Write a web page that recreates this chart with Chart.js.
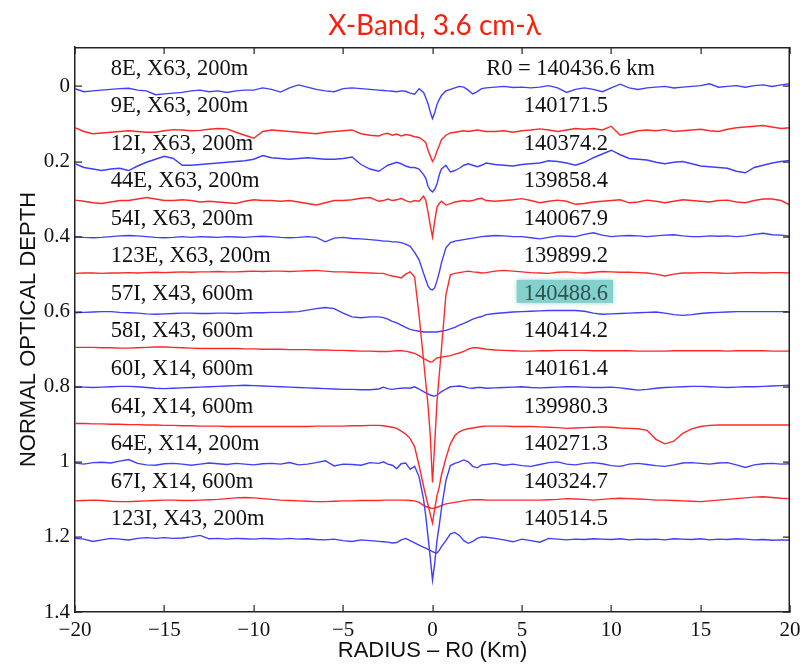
<!DOCTYPE html>
<html>
<head>
<meta charset="utf-8">
<title>X-Band ring profiles</title>
<script src="https://cdn.jsdelivr.net/npm/chart.js@4.4.1/dist/chart.umd.min.js"></script>
<style>
  html, body { margin: 0; padding: 0; background: #fff; }
  #wrap { width: 809px; height: 668px; position: relative; }
</style>
</head>
<body>
<div id="wrap"><canvas id="profiles"></canvas></div>
<script>
// radius relative to R0 (km), shared by every scan
const radiusKm = [
  -20, -19.5, -19, -18.5, -18, -17.5, -17, -16.5, -16, -15.5, -15, -14.5, -14, -13.5, -13, -12.5, -12, -11.5,
  -11, -10.5, -10, -9.5, -9, -8.5, -8, -7.5, -7, -6.5, -6, -5.5, -5, -4.5, -4, -3.5, -3,
  -2.75, -2.5, -2.25, -2, -1.75, -1.5, -1.25, -1, -0.75,
  -0.5, -0.375, -0.25, -0.125, 0, 0.125, 0.25, 0.375, 0.5,
  0.75, 1, 1.25, 1.5, 1.75, 2, 2.25, 2.5, 2.75,
  3, 3.5, 4, 4.5, 5, 5.5, 6, 6.5, 7, 7.5, 8, 8.5, 9, 9.5, 10, 10.5, 11, 11.5,
  12, 12.5, 13, 13.5, 14, 14.5, 15, 15.5, 16, 16.5, 17, 17.5, 18, 18.5, 19, 19.5, 20
];

// normal optical depth of each scan (before stacking)
const rev8E = [
  0.006, 0.014, 0.012, 0.01, 0.008, 0.006, 0.005, 0.01, 0.012, 0.022, 0.02, 0.018, 0.016, 0.012, 0.01, 0.014, 0.012, 0.016,
  0.012, 0.01, 0.01, 0.004, 0.008, 0.015, 0.004, -0.004, 0.002, 0.008, 0.012, 0.014, 0.006, 0.004, 0.006, 0.008, 0.01,
  0.011, 0.012, 0.013, 0.014, 0.012, 0.013, 0.018, 0.021, 0.006,
  0.016, 0.03, 0.046, 0.068, 0.086, 0.07, 0.048, 0.035, 0.024,
  0.012, 0.008, 0.004, 0.0, 0.002, 0.01, 0.02, 0.014, 0.006,
  0.004, 0.002, 0.0, 0.003, 0.002, 0.004, 0.002, -0.002, 0.004, 0.016, 0.008, 0.004, 0.008, 0.014, 0.004, -0.006, 0.004, 0.008,
  0.004, 0.002, 0.0, 0.004, 0.002, 0.0, -0.002, -0.007, 0.002, 0.0, -0.002, 0.002, -0.002, -0.004, 0.0, -0.004, -0.007
];
const rev9E = [
  0.01, 0.02, 0.026, 0.024, 0.022, 0.02, 0.018, 0.02, 0.022, 0.022, 0.018, 0.015, 0.016, 0.018, 0.017, 0.014, 0.012, 0.013,
  0.022, 0.03, 0.038, 0.02, 0.016, 0.018, 0.02, 0.022, 0.024, 0.026, 0.022, 0.02, 0.018, 0.016, 0.026, 0.03, 0.032,
  0.027, 0.025, 0.03, 0.027, 0.032, 0.028, 0.03, 0.034, 0.036,
  0.044, 0.05, 0.07, 0.085, 0.1, 0.09, 0.072, 0.058, 0.042,
  0.03, 0.024, 0.022, 0.02, 0.018, 0.02, 0.018, 0.016, 0.018,
  0.02, 0.02, 0.018, 0.022, 0.018, 0.016, 0.013, 0.016, 0.02, 0.016, 0.012, 0.014, 0.012, 0.016, 0.006, 0.03, 0.024, 0.018,
  0.016, 0.018, 0.015, 0.02, 0.018, 0.016, 0.014, 0.018, 0.02, 0.014, 0.01, 0.008, 0.006, 0.004, 0.008, 0.012, 0.01
];
const rev12I = [
  0.006, 0.016, 0.02, 0.024, 0.02, 0.018, 0.024, 0.012, 0.002, -0.006, -0.014, -0.008, 0.01, 0.01, 0.008, 0.006, 0.004, 0.002,
  0.0, -0.002, -0.006, -0.016, -0.01, -0.008, -0.006, -0.008, -0.01, -0.008, -0.006, -0.006, -0.008, -0.012, 0.008, 0.02, 0.026,
  0.018, 0.01, 0.006, 0.002, 0.006, 0.012, 0.016, 0.016, 0.02,
  0.035, 0.045, 0.066, 0.076, 0.081, 0.074, 0.06, 0.036, 0.02,
  0.01, 0.028, 0.024, 0.018, 0.01, 0.006, 0.01, 0.014, 0.01,
  0.004, 0.008, 0.01, 0.012, 0.008, 0.006, 0.004, -0.002, 0.0, 0.004, 0.01, 0.002, -0.01, -0.02, -0.03, -0.018, -0.008, -0.006,
  -0.004, 0.002, 0.006, 0.002, 0.0, 0.006, 0.012, 0.014, 0.016, 0.018, 0.026, 0.03, 0.016, 0.01, 0.004, 0.0, -0.003
];
const rev44E = [
  0.003, 0.006, 0.01, 0.012, 0.008, 0.004, 0.004, 0.0, -0.004, 0.0, 0.004, 0.004, 0.002, 0.004, 0.008, 0.006, 0.008, 0.01,
  0.012, 0.006, 0.002, 0.004, 0.004, 0.006, 0.004, 0.008, 0.012, 0.016, 0.01, 0.004, 0.004, 0.002, -0.002, -0.004, 0.006,
  0.004, 0.0, 0.004, 0.002, -0.002, 0.004, 0.008, 0.004, 0.006,
  -0.008, 0.004, 0.035, 0.07, 0.101, 0.058, 0.022, 0.012, 0.006,
  0.016, 0.012, 0.008, 0.006, 0.004, 0.006, 0.004, 0.0, -0.002,
  0.004, 0.006, 0.004, 0.002, -0.001, 0.004, 0.01, 0.006, 0.003, 0.006, 0.014, 0.012, 0.008, 0.006, 0.004, 0.002, 0.01, 0.008,
  0.003, 0.006, 0.01, 0.006, 0.002, 0.004, 0.006, 0.008, 0.004, 0.003, 0.008, 0.01, 0.004, 0.0, 0.0, 0.004, 0.016
];
const rev54I = [
  0.0, 0.002, 0.003, 0.002, 0.0, -0.002, -0.003, -0.002, 0.0, 0.002, 0.003, 0.002, 0.0, 0.002, 0.0, 0.001, 0.002, 0.0,
  0.001, 0.002, 0.0, -0.001, 0.0, 0.002, 0.003, 0.002, 0.0, 0.002, 0.014, 0.004, 0.002, 0.005, 0.006, 0.008, 0.01,
  0.012, 0.012, 0.014, 0.014, 0.016, 0.02, 0.026, 0.042, 0.062,
  0.098, 0.115, 0.132, 0.14, 0.142, 0.136, 0.118, 0.096, 0.07,
  0.03, 0.016, 0.012, 0.01, 0.008, 0.006, 0.004, 0.002, 0.0,
  -0.001, -0.003, -0.002, 0.0, 0.0, 0.003, 0.006, 0.002, -0.002, -0.001, 0.0, -0.006, -0.01, -0.004, 0.0, -0.002, -0.003, -0.002,
  0.0, -0.002, -0.004, -0.005, -0.002, 0.0, 0.0, -0.002, -0.001, -0.002, 0.0, -0.002, -0.006, -0.009, -0.005, -0.004, -0.001
];
const rev123E = [
  -0.002, -0.003, -0.003, -0.002, -0.003, -0.003, -0.004, -0.003, -0.004, -0.005, -0.004, -0.005, -0.006, -0.005, -0.006, -0.006, -0.007, -0.006,
  -0.006, -0.007, -0.008, -0.007, -0.008, -0.008, -0.007, -0.008, -0.009, -0.01, -0.008, -0.006, -0.006, -0.005, -0.004, -0.003, -0.002,
  -0.002, 0.002, 0.005, 0.007, 0.01, 0.0, -0.006, 0.008, 0.11,
  0.23, 0.29, 0.35, 0.43, 0.555, 0.45, 0.34, 0.27, 0.2,
  0.055, 0.002, -0.002, -0.004, -0.006, -0.008, -0.006, -0.005, -0.003,
  -0.004, -0.008, -0.01, -0.008, -0.006, -0.004, -0.003, -0.002, -0.005, -0.006, -0.004, -0.003, -0.005, -0.007, -0.006, -0.005, -0.005, -0.004,
  -0.003, 0.0, 0.005, 0.0, -0.003, -0.003, -0.004, -0.004, -0.003, -0.002, -0.003, -0.004, -0.004, -0.003, -0.004, -0.004, -0.003
];
const rev57I = [
  0.003, 0.002, 0.001, 0.0, 0.0, 0.002, 0.003, 0.004, 0.006, 0.007, 0.006, 0.005, 0.004, 0.004, 0.005, 0.005, 0.004, 0.004,
  0.005, 0.004, 0.003, 0.003, 0.002, 0.002, 0.001, 0.0, -0.004, -0.008, -0.011, -0.008, 0.004, 0.014, 0.016, 0.014, 0.014,
  0.016, 0.02, 0.026, 0.03, 0.036, 0.042, 0.047, 0.05, 0.052,
  0.054, 0.054, 0.054, 0.054, 0.054, 0.054, 0.054, 0.053, 0.052,
  0.05, 0.046, 0.042, 0.036, 0.031, 0.026, 0.02, 0.016, 0.013,
  0.008, 0.005, 0.003, 0.001, 0.0, -0.001, -0.002, -0.003, -0.003, -0.003, -0.003, -0.001, 0.004, 0.007, 0.006, 0.005, 0.004, 0.003,
  0.002, 0.001, 0.004, 0.008, 0.01, 0.008, 0.005, 0.003, 0.002, 0.001, 0.0, 0.0, 0.0, 0.0, 0.0, 0.0, 0.0
];
const rev58I = [
  -0.005, -0.005, -0.005, -0.004, -0.004, -0.003, -0.003, -0.004, -0.005, -0.006, -0.006, -0.005, -0.004, -0.003, -0.002, -0.002, -0.002, -0.002,
  -0.002, -0.001, -0.001, 0.0, 0.0, 0.0, 0.001, 0.001, 0.001, 0.002, 0.002, 0.003, 0.003, 0.004, 0.005, 0.005, 0.006,
  0.006, 0.006, 0.005, 0.004, 0.004, 0.005, 0.008, 0.011, 0.017,
  0.025, 0.028, 0.031, 0.034, 0.033, 0.028, 0.023, 0.022, 0.021,
  0.019, 0.017, 0.013, 0.01, 0.006, 0.0, -0.004, -0.004, -0.002,
  0.0, 0.002, 0.003, 0.004, 0.005, 0.005, 0.004, 0.004, 0.003, 0.003, 0.003, 0.003, 0.004, 0.004, 0.004, 0.004, 0.004, 0.005,
  0.005, 0.005, 0.005, 0.004, 0.004, 0.004, 0.004, 0.004, 0.004, 0.005, 0.004, 0.004, 0.004, 0.004, 0.005, 0.005, 0.005
];
const rev60I = [
  0.0, 0.001, 0.002, 0.001, 0.0, -0.001, -0.001, 0.0, 0.002, 0.004, 0.005, 0.004, 0.003, 0.002, 0.001, 0.0, -0.001, -0.002,
  -0.003, -0.004, -0.003, -0.002, -0.001, 0.0, 0.001, 0.002, 0.003, 0.004, 0.005, 0.006, 0.007, 0.007, 0.008, 0.008, 0.006,
  0.001, 0.005, 0.007, 0.005, 0.004, 0.003, 0.004, 0.0, 0.006,
  0.013, 0.016, 0.019, 0.022, 0.024, 0.025, 0.022, 0.018, 0.013,
  0.006, 0.0, -0.001, -0.002, 0.0, 0.003, 0.004, 0.002, 0.002,
  0.004, 0.003, 0.002, 0.001, 0.0, 0.002, 0.003, 0.002, 0.001, 0.0, 0.0, 0.001, 0.002, 0.002, 0.001, 0.003, 0.006, 0.009,
  0.007, 0.004, 0.002, 0.001, 0.0, -0.001, -0.001, 0.0, 0.001, 0.002, 0.001, 0.0, 0.0, -0.001, -0.002, -0.003, -0.004
];
const rev64I = [
  -0.002, -0.002, -0.001, -0.001, 0.0, 0.0, 0.001, 0.001, 0.002, 0.002, 0.003, 0.003, 0.004, 0.004, 0.005, 0.005, 0.005, 0.006,
  0.006, 0.006, 0.006, 0.006, 0.006, 0.006, 0.006, 0.006, 0.006, 0.005, 0.005, 0.005, 0.005, 0.004, 0.004, 0.003, 0.003,
  0.004, 0.006, 0.008, 0.011, 0.018, 0.026, 0.038, 0.06, 0.11,
  0.165, 0.19, 0.215, 0.24, 0.263, 0.225, 0.19, 0.168, 0.135,
  0.09, 0.052, 0.03, 0.02, 0.015, 0.012, 0.01, 0.008, 0.006,
  0.005, 0.005, 0.005, 0.006, 0.006, 0.006, 0.007, 0.008, 0.009, 0.011, 0.01, 0.009, 0.008, 0.007, 0.008, 0.01, 0.011, 0.012,
  0.016, 0.04, 0.052, 0.045, 0.024, 0.012, 0.006, 0.003, 0.002, 0.002, 0.002, 0.002, 0.002, 0.002, 0.002, 0.002, 0.002
];
const rev64E = [
  0.003, 0.006, 0.002, 0.001, 0.003, -0.002, -0.006, 0.004, 0.008, 0.009, 0.005, 0.004, 0.006, 0.009, 0.006, 0.003, 0.005, 0.007,
  0.004, 0.006, 0.008, 0.005, 0.004, 0.006, 0.002, 0.008, 0.006, 0.002, -0.003, 0.011, 0.006, 0.007, 0.009, 0.002, 0.004,
  0.0, 0.006, 0.009, 0.018, 0.005, 0.003, 0.02, 0.012, 0.04,
  0.1, 0.145, 0.2, 0.255, 0.315, 0.27, 0.21, 0.17, 0.125,
  0.05, 0.01, 0.004, 0.0, -0.005, 0.0, 0.012, 0.016, 0.008,
  0.007, 0.004, 0.009, 0.006, 0.01, 0.012, 0.007, 0.002, 0.0, 0.006, 0.008, 0.004, 0.002, 0.005, 0.01, 0.012, 0.006, 0.004,
  0.007, 0.01, 0.012, 0.008, 0.003, 0.002, 0.004, 0.006, 0.003, 0.002, 0.008, 0.015, 0.008, 0.005, 0.004, 0.006, 0.005
];
const rev67I = [
  0.004, 0.003, 0.002, 0.003, 0.005, 0.006, 0.006, 0.005, 0.004, 0.003, 0.002, 0.002, 0.003, 0.003, 0.002, 0.001, 0.0, -0.002,
  -0.004, -0.005, -0.004, -0.002, 0.0, 0.002, 0.003, 0.004, 0.005, 0.006, 0.006, 0.005, 0.004, 0.004, 0.003, 0.003, 0.003,
  0.002, 0.002, 0.002, 0.002, 0.002, 0.002, 0.003, 0.004, 0.008,
  0.016, 0.019, 0.021, 0.023, 0.024, 0.023, 0.021, 0.019, 0.016,
  0.012, 0.01, 0.008, 0.006, 0.004, 0.002, 0.001, 0.001, 0.001,
  0.002, 0.002, 0.002, 0.002, 0.002, 0.002, 0.002, 0.001, 0.0, -0.002, -0.001, 0.0, 0.002, 0.0, -0.002, -0.003, -0.002, -0.001,
  0.0, 0.002, 0.002, 0.003, 0.004, 0.005, 0.006, 0.004, 0.002, 0.0, -0.002, -0.004, -0.006, -0.007, -0.005, -0.003, -0.002
];
const rev123I = [
  0.004, 0.006, 0.012, 0.008, 0.004, 0.006, 0.008, 0.004, 0.002, 0.004, 0.002, 0.004, 0.003, 0.0, -0.004, 0.005, 0.004, 0.006,
  0.004, 0.005, 0.006, 0.004, 0.005, 0.006, 0.004, 0.006, 0.005, 0.007, 0.008, 0.006, 0.01, 0.012, 0.008, 0.01, 0.012,
  0.013, 0.014, 0.016, 0.015, 0.008, 0.004, 0.01, 0.016, 0.022,
  0.028, 0.03, 0.033, 0.036, 0.039, 0.042, 0.043, 0.036, 0.026,
  0.01, -0.008, -0.012, -0.004, 0.01, 0.017, 0.012, 0.004, 0.0,
  0.001, 0.004, 0.008, 0.013, 0.006, 0.01, 0.014, 0.004, 0.006, 0.008, 0.006, 0.007, 0.005, 0.006, 0.007, 0.005, 0.008, 0.006,
  0.007, 0.006, 0.008, 0.005, 0.006, 0.007, 0.005, 0.008, 0.006, 0.007, 0.005, 0.006, 0.008, 0.007, 0.009, 0.008, 0.009
];

const profiles = [rev8E, rev9E, rev12I, rev44E, rev54I, rev123E, rev57I, rev58I, rev60I, rev64I, rev64E, rev67I, rev123I];
// vertical shift applied to each scan in the stack
const offsets = [0, 0.1, 0.2, 0.3, 0.4, 0.5, 0.6, 0.7, 0.8, 0.9, 1.0, 1.1, 1.2];
const scanLabels = [
  '8E, X63, 200m', '9E, X63, 200m', '12I, X63, 200m', '44E, X63, 200m', '54I, X63, 200m',
  '123E, X63, 200m', '57I, X43, 600m', '58I, X43, 600m', '60I, X14, 600m', '64I, X14, 600m',
  '64E, X14, 200m', '67I, X14, 600m', '123I, X43, 200m'
];
const ringRadii = [
  '140436.6', '140171.5', '140374.2', '139858.4', '140067.9', '139899.2', '140488.6',
  '140414.2', '140161.4', '139980.3', '140271.3', '140324.7', '140514.5'
];
const highlighted = '140488.6';
const xTicks = [-20, -15, -10, -5, 0, 5, 10, 15, 20];
const yTicks = [0, 0.2, 0.4, 0.6, 0.8, 1, 1.2, 1.4];

const BLUE = 'rgb(62, 62, 255)';
const RED = 'rgb(255, 40, 40)';
const SERIF = '"Liberation Serif", "Times New Roman", serif';
const SANS = '"Liberation Sans", Arial, sans-serif';
const FRAME = '#222';

const datasets = profiles.map((p, i) => ({
  label: scanLabels[i],
  data: radiusKm.map((r, j) => ({ x: r, y: p[j] + offsets[i] })),
  borderColor: i % 2 === 0 ? BLUE : RED,
  borderWidth: 1.4,
  pointRadius: 0,
  tension: 0,
  fill: false
}));

// top/right box edges, inward ticks, title, and the text beside each scan
const annotate = {
  id: 'annotate',
  afterDraw(chart) {
    const { ctx, chartArea: a, scales: { x, y } } = chart;
    const L = Math.round(a.left), R = Math.round(a.right);
    const T = Math.round(a.top), B = Math.round(a.bottom);
    ctx.save();

    ctx.fillStyle = FRAME;
    ctx.fillRect(L, T, R - L, 1.5);
    ctx.fillRect(R - 1.5, T, 1.5, B - T);
    const tl = 7;
    xTicks.forEach(v => {
      const px = Math.round(x.getPixelForValue(v));
      ctx.fillRect(px - 0.5, B - tl, 1.2, tl);
      ctx.fillRect(px - 0.5, T, 1.2, tl);
    });
    yTicks.forEach(v => {
      const py = Math.round(y.getPixelForValue(v));
      ctx.fillRect(L, py - 0.5, tl, 1.2);
      ctx.fillRect(R - tl, py - 0.5, tl, 1.2);
    });

    ctx.fillStyle = 'rgb(250, 30, 12)';
    ctx.font = '28px Lato, "DejaVu Sans", sans-serif';
    ctx.textAlign = 'center';
    ctx.textBaseline = 'alphabetic';
    ctx.fillText('X-Band, 3.6 cm-\u03bb', (a.left + a.right) / 2 + 2, 35);

    ctx.font = '22.5px ' + SERIF;
    ctx.textAlign = 'left';
    scanLabels.forEach((txt, i) => {
      const base = y.getPixelForValue(offsets[i] - 0.05) + 7;
      ctx.fillStyle = '#111';
      ctx.fillText(txt, x.getPixelForValue(-18), base);
      if (i === 0) {
        ctx.fillText('R0 = ' + ringRadii[i] + ' km', x.getPixelForValue(3.0), base);
        return;
      }
      const nx = x.getPixelForValue(5.1);
      if (ringRadii[i] === highlighted) {
        const w = ctx.measureText(ringRadii[i]).width;
        ctx.save();
        ctx.fillStyle = 'rgb(132, 208, 204)';
        ctx.shadowColor = 'rgba(120, 200, 196, 0.9)';
        ctx.shadowBlur = 5;
        ctx.fillRect(nx - 7, base - 20, w + 12, 23);
        ctx.restore();
        ctx.fillStyle = '#2b5452';
      }
      ctx.fillText(ringRadii[i], nx, base);
    });
    ctx.restore();
  }
};

new Chart(document.getElementById('profiles'), {
  type: 'line',
  data: { datasets },
  plugins: [annotate],
  options: {
    responsive: true,
    maintainAspectRatio: false,
    animation: false,
    layout: { padding: { top: 47, left: 12, right: 19, bottom: 0 } },
    plugins: { legend: { display: false }, tooltip: { enabled: false } },
    scales: {
      x: {
        type: 'linear',
        min: -20,
        max: 20,
        afterBuildTicks: s => { s.ticks = xTicks.map(v => ({ value: v })); },
        afterFit: s => { s.height = 56; },
        grid: { display: true, drawOnChartArea: false, drawTicks: false },
        border: { display: true, color: FRAME, width: 1.5 },
        ticks: {
          padding: 6,
          color: '#111',
          font: { family: SERIF, size: 21 },
          maxRotation: 0,
          callback: v => (v < 0 ? '\u2212' + Math.abs(v) : String(v))
        },
        title: {
          display: true,
          text: 'RADIUS \u2013 R0 (Km)',
          color: '#111',
          font: { family: SANS, size: 22 },
          padding: { top: 0, bottom: 4 }
        }
      },
      y: {
        type: 'linear',
        reverse: true,
        min: -0.105,
        max: 1.4,
        afterBuildTicks: s => { s.ticks = yTicks.map(v => ({ value: v })); },
        afterFit: s => { s.width = 63; },
        grid: { display: true, drawOnChartArea: false, drawTicks: false },
        border: { display: true, color: FRAME, width: 1.5 },
        ticks: {
          padding: 5,
          color: '#111',
          font: { family: SERIF, size: 21 },
          callback: v => String(v)
        },
        title: {
          display: true,
          text: 'NORMAL OPTICAL DEPTH',
          color: '#111',
          font: { family: SANS, size: 22 },
          padding: { top: 4, bottom: 4 }
        }
      }
    }
  }
});
</script>
</body>
</html>
